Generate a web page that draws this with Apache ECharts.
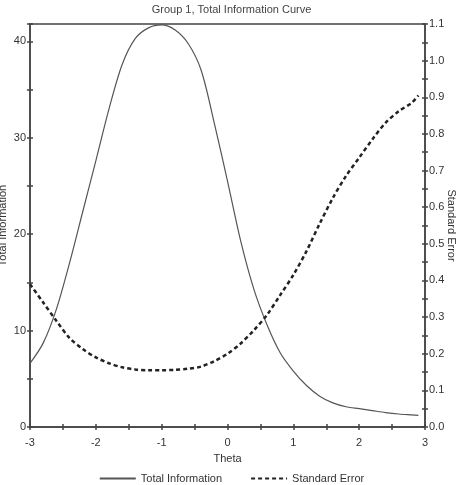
<!DOCTYPE html>
<html>
<head>
<meta charset="utf-8">
<script src="https://cdn.jsdelivr.net/npm/echarts@6/dist/echarts.min.js"></script>
<style>
  html, body { margin: 0; padding: 0; background: #fff; }
  #chart { width: 463px; height: 485px; }
</style>
</head>
<body>
<div id="chart"></div>
<script>
// theta grid the curves were read at
var theta = [-3.0, -2.8, -2.6, -2.4, -2.2, -2.0, -1.8, -1.6, -1.4, -1.2, -1.0,
    -0.8, -0.6, -0.4, -0.2, 0.0, 0.2, 0.4, 0.6, 0.8, 1.0,
    1.2, 1.4, 1.6, 1.8, 2.0, 2.2, 2.4, 2.6, 2.8, 2.9];

// Total Information (left axis)
var totalInfo = [6.6, 8.7, 12.2, 17.0, 22.3, 27.6, 33.0, 37.6, 40.3, 41.4, 41.7,
    41.2, 39.8, 37.0, 31.5, 25.5, 19.3, 14.3, 10.6, 7.7, 5.8,
    4.3, 3.2, 2.5, 2.1, 1.9, 1.7, 1.5, 1.35, 1.25, 1.2];

// Standard Error (right axis)
var stdError = [0.39, 0.34, 0.29, 0.243, 0.213, 0.19, 0.174, 0.163, 0.157, 0.155, 0.155,
    0.156, 0.159, 0.165, 0.18, 0.2, 0.228, 0.264, 0.306, 0.36, 0.415,
    0.48, 0.555, 0.625, 0.685, 0.735, 0.785, 0.83, 0.862, 0.885, 0.905];

function pairs(xs, ys) {
    var out = [];
    for (var i = 0; i < xs.length; i++) {
        out.push([xs[i], ys[i]]);
    }
    return out;
}

var font = 'Liberation Sans, Arial, sans-serif';
var axisColor = '#444';
var labelStyle = { color: '#333', fontFamily: font, fontSize: 11 };
var tickStyle = { color: axisColor, width: 1.5 };

var chart = echarts.init(document.getElementById('chart'));

var option = {
    animation: false,
    title: {
        text: 'Group 1, Total Information Curve',
        left: 'center',
        top: -1,
        textStyle: { color: '#444', fontFamily: font, fontSize: 11, fontWeight: 'normal' }
    },
    grid: {
        left: 30, right: 38, top: 24, bottom: 58,
        containLabel: false,
        outerBoundsMode: 'none',
        show: true, borderColor: axisColor, borderWidth: 1.5
    },
    legend: {
        top: 468,
        left: 'center',
        itemWidth: 36,
        itemHeight: 10,
        itemGap: 28,
        itemStyle: { opacity: 0 },
        textStyle: { color: '#333', fontFamily: font, fontSize: 11 },
        data: ['Total Information', 'Standard Error']
    },
    xAxis: [{
        type: 'value',
        min: -3, max: 3, interval: 0.5,
        name: 'Theta',
        nameLocation: 'middle',
        nameGap: 26,
        nameMoveOverlap: false,
        nameTextStyle: { color: '#333', fontFamily: font, fontSize: 11 },
        axisLine: { onZero: false, lineStyle: { color: axisColor, width: 1.5 } },
        axisTick: { length: 3, lineStyle: tickStyle },
        axisLabel: Object.assign({}, labelStyle, {
            margin: 10,
            formatter: function (v) { return Math.abs(v % 1) < 1e-9 ? String(v) : ''; }
        }),
        splitLine: { show: false }
    }, {
        // inside half of the crossing ticks
        type: 'value', position: 'bottom',
        min: -3, max: 3, interval: 0.5,
        axisLine: { show: false, onZero: false },
        axisTick: { inside: true, length: 3, lineStyle: tickStyle },
        axisLabel: { show: false },
        splitLine: { show: false }
    }],
    yAxis: [{
        type: 'value',
        min: 0, max: 41.8, interval: 5,
        name: 'Total Information',
        nameLocation: 'middle',
        nameGap: 22,
        nameMoveOverlap: false,
        nameTextStyle: { color: '#333', fontFamily: font, fontSize: 11 },
        axisLine: { show: true, onZero: false, lineStyle: { color: axisColor, width: 1.5 } },
        axisTick: { show: true, length: 3, lineStyle: tickStyle },
        axisLabel: Object.assign({}, labelStyle, {
            margin: 4,
            formatter: function (v) { return v % 10 === 0 ? String(v) : ''; }
        }),
        splitLine: { show: false }
    }, {
        type: 'value',
        position: 'right',
        min: 0, max: 1.1, interval: 0.05,
        name: 'Standard Error',
        nameLocation: 'middle',
        nameRotate: -90,
        nameGap: 21,
        nameMoveOverlap: false,
        nameTextStyle: { color: '#333', fontFamily: font, fontSize: 11 },
        axisLine: { show: true, onZero: false, lineStyle: { color: axisColor, width: 1.5 } },
        axisTick: { show: true, length: 3, lineStyle: tickStyle },
        axisLabel: Object.assign({}, labelStyle, {
            margin: 4,
            formatter: function (v) {
                return Math.round(v * 100) % 10 === 0 ? v.toFixed(1) : '';
            }
        }),
        splitLine: { show: false }
    }, {
        type: 'value', position: 'left',
        min: 0, max: 41.8, interval: 5,
        axisLine: { show: false, onZero: false },
        axisTick: { show: true, inside: true, length: 3, lineStyle: tickStyle },
        axisLabel: { show: false },
        splitLine: { show: false }
    }, {
        type: 'value', position: 'right',
        min: 0, max: 1.1, interval: 0.05,
        axisLine: { show: false, onZero: false },
        axisTick: { show: true, inside: true, length: 3, lineStyle: tickStyle },
        axisLabel: { show: false },
        splitLine: { show: false }
    }],
    series: [{
        name: 'Total Information',
        type: 'line',
        xAxisIndex: 0,
        yAxisIndex: 0,
        data: pairs(theta, totalInfo),
        smooth: 0.3,
        showSymbol: false,
        symbol: 'none',
        color: '#555',
        lineStyle: { color: '#555', width: 1.2 }
    }, {
        name: 'Standard Error',
        type: 'line',
        xAxisIndex: 0,
        yAxisIndex: 1,
        data: pairs(theta, stdError),
        smooth: 0.3,
        showSymbol: false,
        symbol: 'none',
        color: '#222',
        lineStyle: { color: '#222', width: 2.5, type: [4, 3] }
    }]
};

chart.setOption(option);
</script>
</body>
</html>
